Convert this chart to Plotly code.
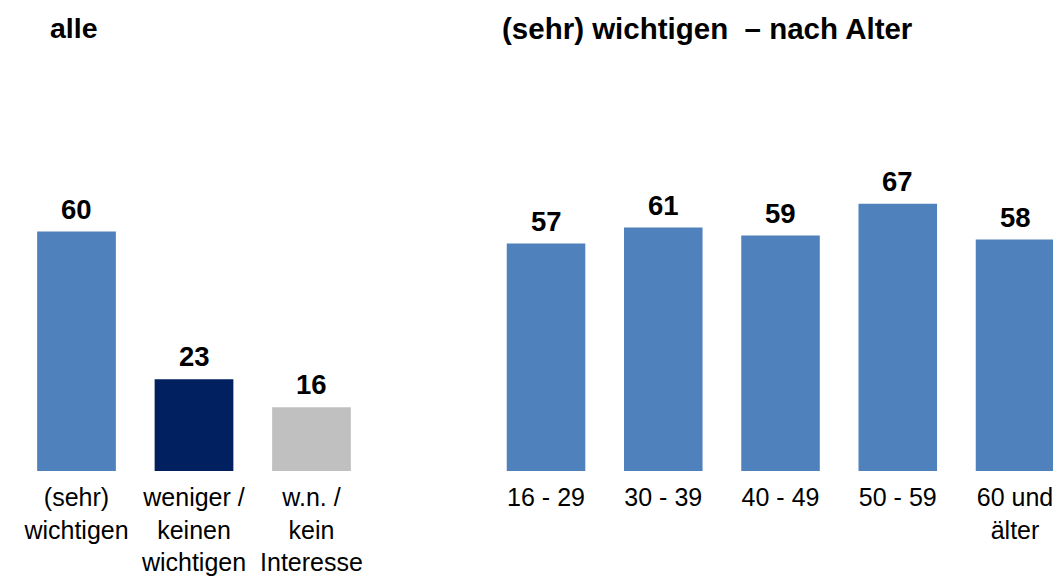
import plotly.graph_objects as go

# Data
left_categories = ["(sehr)<br>wichtigen", "weniger /<br>keinen<br>wichtigen", "w.n. /<br>kein<br>Interesse"]
left_values = [60, 23, 16]
left_colors = ["#4F81BD", "#002060", "#C0C0C0"]

right_categories = ["16 - 29", "30 - 39", "40 - 49", "50 - 59", "60 und<br>älter"]
right_values = [57, 61, 59, 67, 58]
right_color = "#4F81BD"

title_left = "alle"
title_right = "(sehr) wichtigen\u00a0\u00a0– nach Alter"

# page has an 8px body margin, so the figure is 8px smaller
W, H = 1053, 570
BASE = 463  # baseline in figure px
YMAX = BASE / 3.99
FONT = "Liberation Sans, Arial, sans-serif"

fig = go.Figure()
fig.add_trace(go.Bar(
    x=left_categories, y=left_values, marker_color=left_colors, marker_line_width=0,
    xaxis="x", yaxis="y", showlegend=False, hoverinfo="skip",
))
fig.add_trace(go.Bar(
    x=right_categories, y=right_values, marker_color=right_color, marker_line_width=0,
    xaxis="x2", yaxis="y2", showlegend=False, hoverinfo="skip",
))

annotations = []
for cats, vals, xr, yr in [(left_categories, left_values, "x", "y"),
                           (right_categories, right_values, "x2", "y2")]:
    for c, v in zip(cats, vals):
        annotations.append(dict(
            text=f"<b>{v}</b>", x=c, y=v, xref=xr, yref=yr,
            xanchor="center", yanchor="bottom", yshift=5, showarrow=False,
            font=dict(family=FONT, size=27.5, color="black")))

axis_common = dict(showgrid=False, zeroline=False, showline=False, ticks="",
                   ticklabelstandoff=9,
                   tickfont=dict(family=FONT, size=25, color="black"), fixedrange=True)

annotations += [
    dict(text=f"<b>{title_left}</b>", xref="paper", yref="paper",
         x=40 / W, y=(BASE - 20) / BASE, xanchor="left", yanchor="middle",
         showarrow=False, font=dict(family=FONT, size=28.5, color="black")),
    dict(text=f"<b>{title_right}</b>", xref="paper", yref="paper",
         x=492 / W, y=(BASE - 20) / BASE, xanchor="left", yanchor="middle",
         showarrow=False, font=dict(family=FONT, size=29.5, color="black")),
]

fig.update_layout(
    width=W, height=H,
    margin=dict(l=0, r=0, t=0, b=H - BASE),
    paper_bgcolor="white", plot_bgcolor="white",
    bargap=0.33,
    font=dict(family=FONT, color="black"),
    xaxis=dict(domain=[9.75 / W, 362.25 / W], range=[-0.5, 2.5], anchor="y",
               type="category", **axis_common),
    yaxis=dict(domain=[0, 1], range=[0, YMAX], visible=False, anchor="x"),
    xaxis2=dict(domain=[479.4 / W, 1.0], range=[-0.5, -0.5 + (W - 479.4) / 117.25], anchor="y2",
                type="category", **axis_common),
    yaxis2=dict(domain=[0, 1], range=[0, YMAX], visible=False, anchor="x2"),
    annotations=annotations,
)

fig.write_html("out.html")
